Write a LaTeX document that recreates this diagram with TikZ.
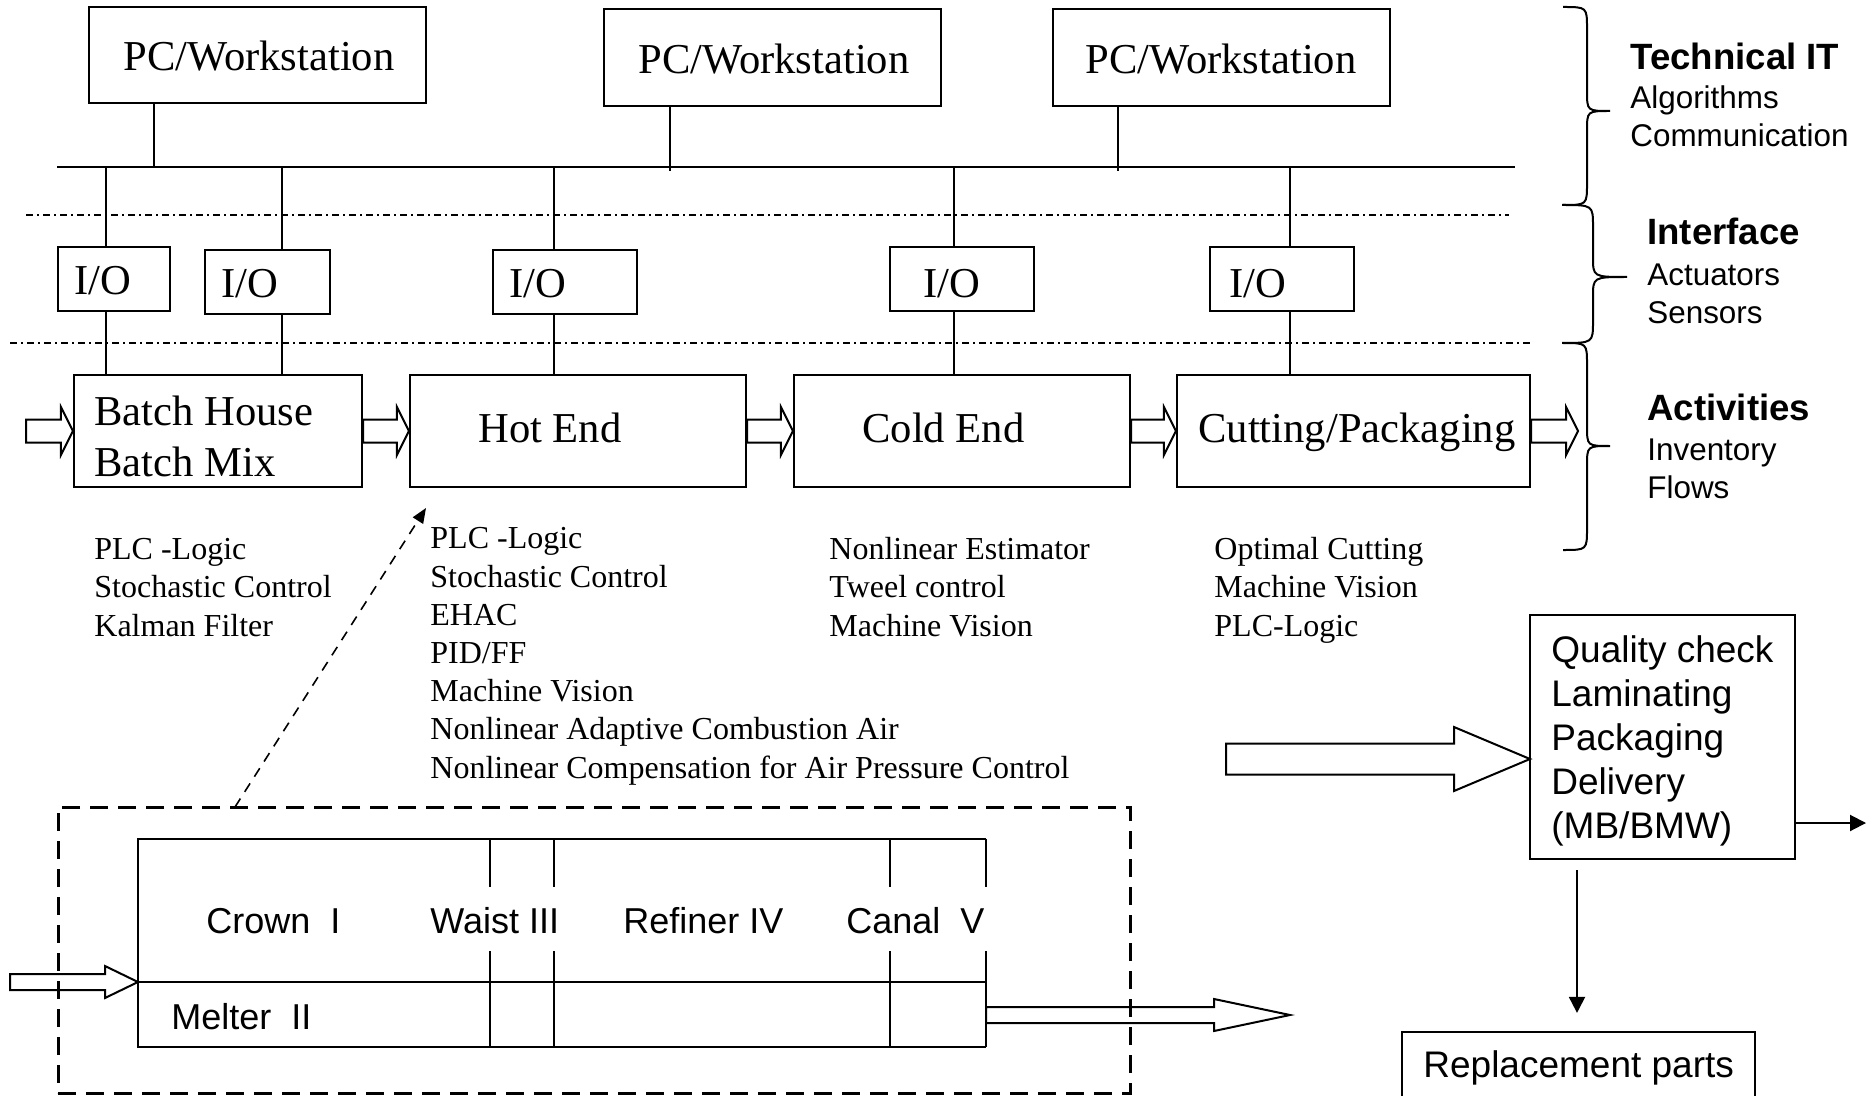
\documentclass[tikz,border=0pt]{standalone}
\usepackage{fontspec}
\setmainfont{Liberation Serif}
\setsansfont{Liberation Sans}
\usetikzlibrary{arrows.meta,calc,fit}
\newcommand\mybrace[6]{%
\draw[line width=1pt] (#1,#4) .. controls (#2,#4) .. (#2,{#4+22}) -- (#2,{#5-20}) .. controls (#2,#5) .. (#3,#5) .. controls (#2,#5) .. (#2,{#5+20}) -- (#2,{#6-22}) .. controls (#2,#6) .. (#1,#6);}
\begin{document}
\begin{tikzpicture}[x=0.5pt,y=-0.5pt,
  box/.style={draw, line width=1.1pt, inner sep=0pt},
  wire/.style={line width=1pt},
  bus/.style={line width=1.2pt},
  dashdot/.style={line width=1pt, dash pattern=on 3.5pt off 2pt on 1pt off 2pt},
  dbox/.style={draw, line width=1.5pt, dash pattern=on 9pt off 5pt, inner sep=0pt},
  darrow/.style={line width=0.8pt, dash pattern=on 5pt off 4pt, -{Triangle[length=7.5pt,width=6pt]}},
  big/.style={font=\fontsize{21.3}{25}\selectfont, inner sep=0pt, anchor=base west},
  lst/.style={font=\fontsize{16}{19.1}\selectfont, inner sep=0pt, anchor=base west, align=left},
  hd/.style={font=\sffamily\bfseries\fontsize{18.3}{20}\selectfont, inner sep=0pt, anchor=base west},
  sub/.style={font=\sffamily\fontsize{15.7}{19}\selectfont, inner sep=0pt, anchor=base west, align=left},
  fz/.style={font=\sffamily\fontsize{18}{20}\selectfont, inner sep=0pt, anchor=base west},
  qt/.style={font=\sffamily\fontsize{18.5}{21.9}\selectfont, inner sep=0pt, anchor=base west, align=left},
  hollow/.style args={#1/#2/#3}{draw, line width=1pt, to path={($(\tikztostart)+(0pt,#1)$) -- ($(\tikztotarget)+(-#3,#1)$) -- ($(\tikztotarget)+(-#3,#2)$) -- (\tikztotarget) -- ($(\tikztotarget)+(-#3,-#2)$) -- ($(\tikztotarget)+(-#3,-#1)$) -- ($(\tikztostart)+(0pt,-#1)$) -- cycle}},
  tri/.style={line width=1pt, -{Triangle[length=8pt,width=8pt]}}
]
\useasboundingbox (0,0) rectangle (1866,1096);
\clip (0,0) rectangle (1866,1096);

% PC workstations
\node[box, fit={(89,7)(426,103)}] (pc1) {};
\node[box, fit={(604,9)(941,106)}] (pc2) {};
\node[box, fit={(1053,9)(1390,106)}] (pc3) {};
\node[big] (pc1t) at (123,71) {PC/Workstation};
\node[big] (pc2t) at (638,74) {PC/Workstation};
\node[big] (pc3t) at (1085,74) {PC/Workstation};

% bus
\coordinate (busL) at (57,167);
\coordinate (busR) at (1515,167);
\draw[bus] (busL) -- (busR);
\coordinate (p1) at (154,167);
\coordinate (p2) at (670,171);
\coordinate (p3) at (1118,171);
\draw[wire] (p1 |- pc1.south) -- (p1);
\draw[wire] (p2 |- pc2.south) -- (p2);
\draw[wire] (p3 |- pc3.south) -- (p3);

% layer separators
\coordinate (dd1a) at (26,215);
\coordinate (dd1b) at (1509,215);
\coordinate (dd2a) at (10,343);
\coordinate (dd2b) at (1533,343);
\draw[dashdot] (dd1a) -- (dd1b);
\draw[dashdot] (dd2a) -- (dd2b);

% I/O boxes
\node[box, fit={(58,247)(170,311)}] (io1) {};
\node[box, fit={(205,250)(330,314)}] (io2) {};
\node[box, fit={(493,250)(637,314)}] (io3) {};
\node[box, fit={(890,247)(1034,311)}] (io4) {};
\node[box, fit={(1210,247)(1354,311)}] (io5) {};
\node[big] (io1t) at (74,295) {I/O};
\node[big] (io2t) at (221,298) {I/O};
\node[big] (io3t) at (509,298) {I/O};
\node[big] (io4t) at (923,298) {I/O};
\node[big] (io5t) at (1229,298) {I/O};

% activity boxes
\node[box, fit={(74,375)(362,487)}] (batch) {};
\node[box, fit={(410,375)(746,487)}] (hot) {};
\node[box, fit={(794,375)(1130,487)}] (cold) {};
\node[box, fit={(1177,375)(1530,487)}] (cut) {};
\node[big] (batcht1) at (94,425) {Batch House};
\node[big] (batcht2) at (94,476) {Batch Mix};
\node[big] (hott) at (478,442) {Hot End};
\node[big] (coldt) at (862,442) {Cold End};
\node[big] (cutt) at (1198,442) {Cutting/Packaging};

% drops bus -> I/O -> activities
\coordinate (b1) at (106,167);
\coordinate (b2) at (282,167);
\coordinate (b3) at (554,167);
\coordinate (b4) at (954,167);
\coordinate (b5) at (1290,167);
\draw[wire] (b1) -- (b1 |- io1.north);
\draw[wire] (b1 |- io1.south) -- (b1 |- batch.north);
\draw[wire] (b2) -- (b2 |- io2.north);
\draw[wire] (b2 |- io2.south) -- (b2 |- batch.north);
\draw[wire] (b3) -- (b3 |- io3.north);
\draw[wire] (b3 |- io3.south) -- (b3 |- hot.north);
\draw[wire] (b4) -- (b4 |- io4.north);
\draw[wire] (b4 |- io4.south) -- (b4 |- cold.north);
\draw[wire] (b5) -- (b5 |- io5.north);
\draw[wire] (b5 |- io5.south) -- (b5 |- cut.north);

% material flow arrows
\coordinate (in0) at (26,431);
\coordinate (out0) at (1578,431);
\draw[hollow=5.75pt/12pt/6pt] (in0) to (batch.west);
\draw[hollow=5.75pt/12pt/6pt] (batch.east) to (hot.west);
\draw[hollow=5.75pt/12pt/6pt] (hot.east) to (cold.west);
\draw[hollow=5.75pt/12pt/6pt] (cold.east) to (cut.west);
\draw[hollow=5.75pt/12pt/6pt] (cut.east) to (out0);

% braces
\mybrace{1563}{1587}{1610}{7}{111}{205}
\mybrace{1562}{1593}{1627}{205}{277}{343}
\mybrace{1563}{1587}{1610}{343}{446}{550}
\node[hd] (tith) at (1630,70) {Technical IT};
\node[sub] (tits) at (1630,147) {Algorithms\\Communication};
\node[hd] (ifh) at (1647,245) {Interface};
\node[sub] (ifs) at (1647,323) {Actuators\\Sensors};
\node[hd] (ach) at (1647,420) {Activities};
\node[sub] (acs) at (1647,498) {Inventory\\Flows};

% method lists (anchored at the baseline of their last line)
\node[lst] (l1) at (94,636) {PLC -Logic\\Stochastic Control\\Kalman Filter};
\node[lst] (l2) at (430,778) {PLC -Logic\\Stochastic Control\\EHAC\\PID/FF\\Machine Vision\\Nonlinear Adaptive Combustion Air\\Nonlinear Compensation for Air Pressure Control};
\node[lst] (l3) at (829,636) {Nonlinear Estimator\\Tweel control\\Machine Vision};
\node[lst] (l4) at (1214,636) {Optimal Cutting\\Machine Vision\\PLC-Logic};

% furnace detail
\node[dbox, fit={(58,807)(1130,1093)}] (dbox) {};
\coordinate (dstart) at (235,807);
\coordinate (dtip) at (426,508);
\draw[darrow] (dstart) -- (dtip);

\node[inner sep=0pt, fit={(138,839)(986,1047)}] (furn) {};
\draw[wire] (furn.north east) -- (furn.north west) -- (furn.south west) -- (furn.south east);
\coordinate (fmid) at (138,982);
\draw[wire] (fmid) -- (fmid -| furn.east);
\foreach \xx in {490,554,890,986} {
  \draw[wire] (\xx,839) -- (\xx,887);
  \draw[wire] (\xx,951) -- (\xx,1047);
}
\node[fz] (crown) at (206,933) {Crown\ \ I};
\node[fz] (waist) at (430,933) {Waist III};
\node[fz] (refiner) at (623,933) {Refiner IV};
\node[fz] (canal) at (846,933) {Canal\ \ V};
\node[fz] (melter) at (171,1029) {Melter\ \ II};

\coordinate (fin) at (10,982);
\draw[hollow=4pt/8pt/16.5pt] (fin) to (fmid);
\coordinate (fo1) at (986,1015);
\coordinate (fo2) at (1290,1015);
\draw[hollow=4pt/8pt/38pt] (fo1) to (fo2);

% quality & replacement
\node[box, fit={(1530,615)(1795,859)}] (qual) {};
\node[qt] (qualt) at (1551,838) {Quality check\\Laminating\\Packaging\\Delivery\\(MB/BMW)};
\coordinate (qa) at (1226,759);
\coordinate (qin) at (1530,759);
\draw[hollow=7.75pt/16pt/38pt] (qa) to (qin);
\coordinate (qout) at (1866,823);
\draw[tri] (qout -| qual.east) -- (qout);

\node[box, fit={(1402,1032)(1755,1130)}] (repl) {};
\node[font=\sffamily\fontsize{18.5}{21}\selectfont, inner sep=0pt, anchor=base west] (replt) at (1423,1077) {Replacement parts};
\coordinate (dn) at (1577,870);
\draw[tri] (dn) -- ($(dn |- repl.north)+(0,-18)$);
\end{tikzpicture}
\end{document}
